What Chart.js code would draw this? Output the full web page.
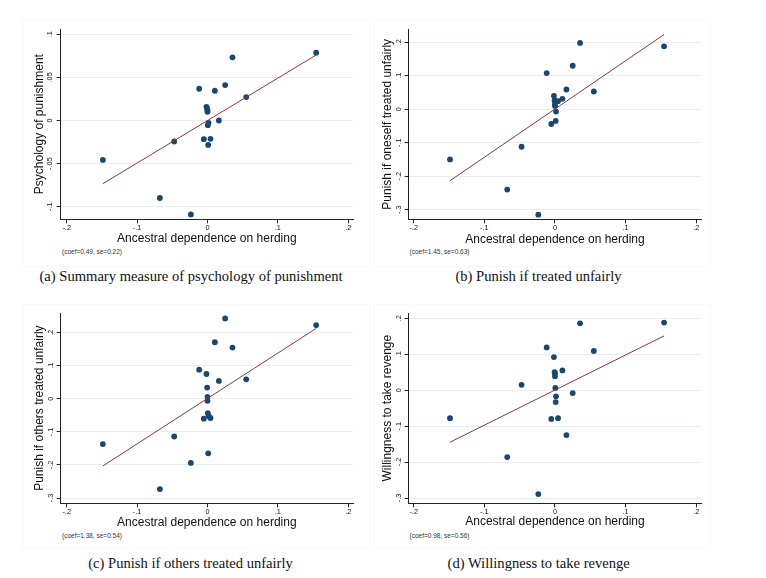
<!DOCTYPE html>
<html>
<head>
<meta charset="utf-8">
<script src="https://cdn.jsdelivr.net/npm/chart.js@4.4.1/dist/chart.umd.min.js"></script>
<style>
  html, body { margin: 0; padding: 0; background: #fff; }
  #page { position: relative; width: 766px; height: 578px; overflow: hidden; }
  canvas { position: absolute; }
  .frame { position: absolute; border: 1px solid #f9f9f9; box-sizing: border-box; }
  .note { position: absolute; font: 6.5px "Liberation Sans", Arial, sans-serif; color: #333; white-space: nowrap; line-height: 8px; }
  .caption { position: absolute; font: 14.6px "Liberation Serif", serif; color: #111; white-space: nowrap; transform: translateX(-50%); line-height: 16px; }
</style>
</head>
<body>
<div id="page"></div>
<script>
// x: ancestral dependence on herding, same 20 groups in every panel
const herding = [-0.1486, -0.0676, -0.0473, -0.0236, -0.0118, -0.0052, -0.0015, -0.0005, 0.0, 0.0,
                 0.0005, 0.0015, 0.001, 0.0043, 0.0105, 0.0162, 0.0251, 0.0355, 0.055, 0.1544];

// y values per panel
const psychPunish  = [-0.0457, -0.0899, -0.0244, -0.1090, 0.0368, -0.0217, 0.0159, 0.0140, 0.0120, 0.0101,
                      -0.0054, -0.0027, -0.0283, -0.0213, 0.0345, 0.0000, 0.0411, 0.0733, 0.0271, 0.0787];
const punishSelf   = [-0.150, -0.240, -0.112, -0.315, 0.108, -0.044, 0.040, 0.027, 0.015, 0.010,
                      0.022, -0.007, -0.035, 0.024, 0.031, 0.059, 0.130, 0.198, 0.053, 0.188];
const punishOthers = [-0.137, -0.273, -0.114, -0.194, 0.088, -0.060, 0.075, 0.034, 0.006, -0.006,
                      -0.043, -0.052, -0.165, -0.058, 0.171, 0.054, 0.243, 0.155, 0.059, 0.223];
const revenge      = [-0.078, -0.186, 0.015, -0.289, 0.119, -0.080, 0.092, 0.050, 0.047, 0.039,
                      0.006, -0.017, -0.033, -0.078, 0.055, -0.125, -0.008, 0.186, 0.109, 0.188];

// fitted lines, ends
const fitX = [-0.1486, 0.1544];
const fitPsych  = [-0.0733, 0.0760];
const fitSelf   = [-0.2134, 0.2233];
const fitOthers = [-0.2030, 0.2130];
const fitRevenge = [-0.1447, 0.1510];

// ticks
const xTicks = [-0.2, -0.1, 0, 0.1, 0.2];
const xTickLabels = ['-.2', '-.1', '0', '.1', '.2'];
const yTicksSmall = [-0.1, -0.05, 0, 0.05, 0.1];
const yTickLabelsSmall = ['-.1', '-.05', '0', '.05', '.1'];
const yTicksWide = [-0.3, -0.2, -0.1, 0, 0.1, 0.2];
const yTickLabelsWide = ['-.3', '-.2', '-.1', '0', '.1', '.2'];

const xTitle = 'Ancestral dependence on herding';
const navy = '#1a476f';
const maroon = '#90353b';
const sans = '"Liberation Sans", Arial, sans-serif';

const page = document.getElementById('page');

const panels = [
  { ys: psychPunish, fit: fitPsych, yTicks: yTicksSmall, yLabels: yTickLabelsSmall,
    yTitle: 'Psychology of punishment', note: '(coef=0.49, se=0.22)',
    caption: '(a) Summary measure of psychology of punishment',
    L: 60.7, R: 353, T: 29, B: 219.3, titleX: 39.3, xTitleY: 239,
    xMin: -0.2085, xMax: 0.2067, yMin: -0.1146, yMax: 0.1061, yPad: 0,
    frame: [23, 19, 370, 267], noteXY: [62, 248], capXY: [191, 268] },
  { ys: punishSelf, fit: fitSelf, yTicks: yTicksWide, yLabels: yTickLabelsWide,
    yTitle: 'Punish if oneself treated unfairly', note: '(coef=1.45, se=0.63)',
    caption: '(b) Punish if treated unfairly',
    L: 408.6, R: 701.3, T: 29.3, B: 219.3, titleX: 387.8, xTitleY: 239.3,
    xMin: -0.2072, xMax: 0.2071, yMin: -0.3287, yMax: 0.2388, yPad: 1.2,
    frame: [373, 19, 711, 267], noteXY: [409.5, 248], capXY: [538.5, 268] },
  { ys: punishOthers, fit: fitOthers, yTicks: yTicksWide, yLabels: yTickLabelsWide,
    yTitle: 'Punish if others treated unfairly', note: '(coef=1.38, se=0.54)',
    caption: '(c) Punish if others treated unfairly',
    L: 60.7, R: 353, T: 313, B: 503.3, titleX: 39.3, xTitleY: 522.3,
    xMin: -0.2085, xMax: 0.2067, yMin: -0.316, yMax: 0.2595, yPad: 1.2,
    frame: [23, 304, 370, 549], noteXY: [62, 532], capXY: [190.5, 555] },
  { ys: revenge, fit: fitRevenge, yTicks: yTicksWide, yLabels: yTickLabelsWide,
    yTitle: 'Willingness to take revenge', note: '(coef=0.98, se=0.56)',
    caption: '(d) Willingness to take revenge',
    L: 408.6, R: 701.3, T: 313, B: 503.3, titleX: 387.8, xTitleY: 521.7,
    xMin: -0.2072, xMax: 0.2071, yMin: -0.3147, yMax: 0.2147, yPad: 1.2,
    frame: [373, 304, 711, 549], noteXY: [409.5, 532], capXY: [538.7, 555] }
];

function addDiv(cls, text, left, top) {
  const d = document.createElement('div');
  d.className = cls;
  d.textContent = text;
  d.style.left = left + 'px';
  d.style.top = top + 'px';
  page.appendChild(d);
  return d;
}

function drawPanel(p) {
  const f = document.createElement('div');
  f.className = 'frame';
  f.style.left = p.frame[0] + 'px';
  f.style.top = p.frame[1] + 'px';
  f.style.width = (p.frame[2] - p.frame[0]) + 'px';
  f.style.height = (p.frame[3] - p.frame[1]) + 'px';
  page.appendChild(f);

  const half = 12 * 1.2 / 2;
  const left = Math.floor(p.titleX - half);
  const top = Math.floor(p.T - 15);
  const right = Math.ceil(p.R + 10);
  const bottom = Math.ceil(p.xTitleY + half);

  const cv = document.createElement('canvas');
  cv.width = right - left;
  cv.height = bottom - top;
  cv.style.left = left + 'px';
  cv.style.top = top + 'px';
  page.appendChild(cv);

  new Chart(cv, {
    type: 'scatter',
    data: {
      datasets: [
        {
          data: herding.map((x, i) => ({ x: x, y: p.ys[i] })),
          backgroundColor: navy,
          borderWidth: 0,
          pointRadius: 2.9,
          order: 1
        },
        {
          type: 'line',
          data: fitX.map((x, i) => ({ x: x, y: p.fit[i] })),
          borderColor: maroon,
          borderWidth: 1,
          pointRadius: 0,
          fill: false,
          order: 0
        }
      ]
    },
    options: {
      responsive: false,
      animation: false,
      layout: { padding: { top: p.T - top, right: right - p.R, left: 0, bottom: 0 } },
      plugins: { legend: { display: false }, tooltip: { enabled: false } },
      scales: {
        x: {
          type: 'linear',
          min: p.xMin,
          max: p.xMax,
          afterFit: s => { s.height = bottom - p.B; },
          afterBuildTicks: s => { s.ticks = xTicks.map(v => ({ value: v })); },
          ticks: {
            callback: (v, i) => xTickLabels[i],
            font: { family: sans, size: 7.3 },
            color: '#111',
            padding: 0.5,
            maxRotation: 0,
            autoSkip: false
          },
          grid: { drawOnChartArea: false, tickLength: 4, tickColor: '#222', tickWidth: 1 },
          border: { color: '#222', width: 1 },
          title: {
            display: true,
            text: xTitle,
            font: { family: sans, size: 12 },
            color: '#111',
            padding: { top: 0, bottom: bottom - (p.xTitleY + half) }
          }
        },
        y: {
          type: 'linear',
          min: p.yMin,
          max: p.yMax,
          afterFit: s => { s.width = p.L - left; },
          afterBuildTicks: s => { s.ticks = p.yTicks.map(v => ({ value: v })); },
          ticks: {
            callback: (v, i) => p.yLabels[i],
            font: { family: sans, size: 7.3 },
            color: '#111',
            padding: p.yPad,
            minRotation: 90,
            maxRotation: 90,
            crossAlign: 'center',
            autoSkip: false
          },
          grid: { color: '#e8eef0', lineWidth: 1, tickLength: 4, tickColor: '#222', tickWidth: 1 },
          border: { color: '#222', width: 1 },
          title: {
            display: true,
            text: p.yTitle,
            font: { family: sans, size: 12 },
            color: '#111',
            padding: { top: (p.titleX - half) - left, bottom: 0 }
          }
        }
      }
    }
  });

  addDiv('note', p.note, p.noteXY[0], p.noteXY[1]);
  addDiv('caption', p.caption, p.capXY[0], p.capXY[1]);
}

panels.forEach(drawPanel);
</script>
</body>
</html>
